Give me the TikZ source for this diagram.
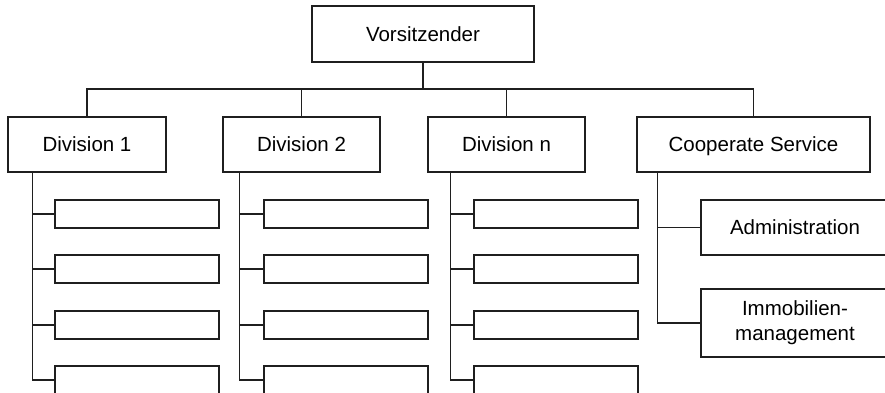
\documentclass[tikz,border=0pt]{standalone}
\usepackage{fontspec}
\setmainfont{Liberation Sans}
\begin{document}
\begin{tikzpicture}[x=1pt,y=-1pt,
  box/.style={draw=black!88,line width=1.5pt,fill=white,inner sep=0pt,align=center,
    font=\fontsize{20.5}{25}\selectfont},
  one/.style={box,text height=14.7pt,text depth=0pt},
  sub/.style={box,minimum width=164pt,minimum height=28pt},
  conn/.style={draw=black!88,line width=1.5pt}]
\useasboundingbox (0,0) rectangle (885,393);
\clip (0,0) rectangle (885,393);
\node[one,minimum width=222pt,minimum height=56pt] (v) at (423,34) {Vorsitzender};
\node[one,minimum width=158pt,minimum height=55pt] (d1) at (87,144.5) {Division 1};
\node[one,minimum width=157pt,minimum height=55pt] (d2) at (301.5,144.5) {Division 2};
\node[one,minimum width=157pt,minimum height=55pt] (dn) at (506.5,144.5) {Division n};
\node[one,minimum width=233pt,minimum height=55pt] (cs) at (753.5,144.5) {Cooperate Service};
\coordinate (bus) at (0,89);
\foreach \k/\y in {1/214,2/269,3/325,4/380}{
  \node[sub] (a\k) at (137,\y) {};
  \node[sub] (b\k) at (346,\y) {};
  \node[sub] (c\k) at (556,\y) {};
}
\node[one,minimum width=188pt,minimum height=55pt] (adm) at (795,227.5) {Administration};
\node[box,minimum width=188pt,minimum height=68pt] (imm) at (795,323) {Immobilien-\\management};
% top bus
\draw[conn] (v.south) -- (v.south |- bus);
\draw[conn] (d1.north) -- (d1.north |- bus) -- (cs.north |- bus) -- (cs.north);
\draw[conn] (d2.north) -- (d2.north |- bus);
\draw[conn] (dn.north) -- (dn.north |- bus);
% trunks
\coordinate (t1) at ([xshift=25pt]d1.south west);
\coordinate (t2) at ([xshift=17pt]d2.south west);
\coordinate (t3) at ([xshift=23pt]dn.south west);
\coordinate (t4) at ([xshift=21pt]cs.south west);
\draw[conn] (t1) |- (a4.west);
\draw[conn] (t2) |- (b4.west);
\draw[conn] (t3) |- (c4.west);
\foreach \k in {1,2,3}{
  \draw[conn] (a\k.west) -- (a\k.west -| t1);
  \draw[conn] (b\k.west) -- (b\k.west -| t2);
  \draw[conn] (c\k.west) -- (c\k.west -| t3);
}
\draw[conn] (t4) |- (imm.west);
\draw[conn] (adm.west) -- (adm.west -| t4);
\end{tikzpicture}
\end{document}
